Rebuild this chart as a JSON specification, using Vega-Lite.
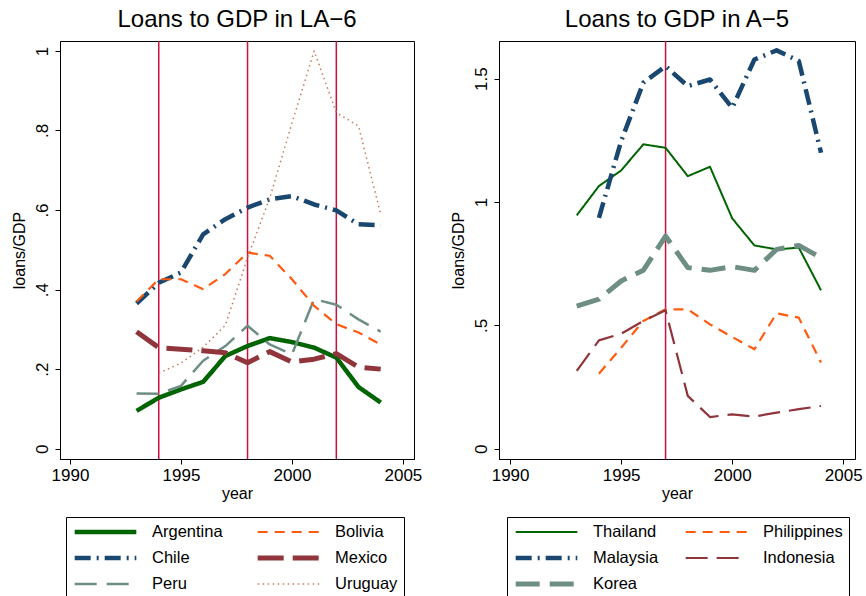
{
  "$schema": "https://vega.github.io/schema/vega-lite/v6.json",
  "background": "white",
  "padding": {"left": 10, "top": 7, "right": 5, "bottom": 5},
  "spacing": 26,
  "config": {
    "font": "Liberation Sans",
    "view": {"stroke": "black", "strokeWidth": 1},
    "axis": {"domainColor": "black", "tickColor": "black", "labelColor": "black", "titleColor": "black", "labelFontSize": 17, "titleFontSize": 16, "titleFontWeight": "normal", "grid": false, "tickSize": 5, "labelFont": "Liberation Sans", "titleFont": "Liberation Sans"},
    "title": {"fontSize": 24, "fontWeight": "normal", "font": "Liberation Sans", "color": "black", "anchor": "middle", "frame": "group", "offset": 8},
    "legend": {"labelFont": "Liberation Sans", "labelFontSize": 16.5, "labelColor": "black", "symbolType": "stroke", "symbolSize": 3800, "clipHeight": 18, "labelOffset": 13, "rowPadding": 8, "padding": 6, "strokeColor": "black", "columns": 2, "orient": "none"}
  },
  "resolve": {"scale": {"color": "independent", "strokeDash": "independent", "strokeWidth": "independent"}, "legend": {"color": "independent", "strokeDash": "independent", "strokeWidth": "independent"}},
  "hconcat": [
    {
      "width": 354,
      "height": 418,
      "title": "Loans to GDP in LA\u22126",
      "layer": [
        {
          "data": {"values": [{"year": 1994}, {"year": 1998}, {"year": 2002}]},
          "mark": {"type": "rule", "color": "#cc1040", "strokeWidth": 1.5},
          "encoding": {"x": {"field": "year", "type": "quantitative"}}
        },
        {
          "data": {"values": [
            {"c": "Argentina", "year": 1993, "v": 0.095},
            {"c": "Argentina", "year": 1994, "v": 0.128},
            {"c": "Argentina", "year": 1995, "v": 0.149},
            {"c": "Argentina", "year": 1996, "v": 0.168},
            {"c": "Argentina", "year": 1997, "v": 0.233},
            {"c": "Argentina", "year": 1998, "v": 0.258},
            {"c": "Argentina", "year": 1999, "v": 0.278},
            {"c": "Argentina", "year": 2000, "v": 0.268},
            {"c": "Argentina", "year": 2001, "v": 0.254},
            {"c": "Argentina", "year": 2002, "v": 0.229},
            {"c": "Argentina", "year": 2003, "v": 0.155},
            {"c": "Argentina", "year": 2004, "v": 0.116},
            {"c": "Chile", "year": 1993, "v": 0.365},
            {"c": "Chile", "year": 1994, "v": 0.417},
            {"c": "Chile", "year": 1995, "v": 0.443},
            {"c": "Chile", "year": 1996, "v": 0.539},
            {"c": "Chile", "year": 1997, "v": 0.577},
            {"c": "Chile", "year": 1998, "v": 0.606},
            {"c": "Chile", "year": 1999, "v": 0.627},
            {"c": "Chile", "year": 2000, "v": 0.635},
            {"c": "Chile", "year": 2001, "v": 0.614},
            {"c": "Chile", "year": 2002, "v": 0.599},
            {"c": "Chile", "year": 2003, "v": 0.564},
            {"c": "Chile", "year": 2004, "v": 0.562},
            {"c": "Peru", "year": 1993, "v": 0.139},
            {"c": "Peru", "year": 1994, "v": 0.138},
            {"c": "Peru", "year": 1995, "v": 0.158},
            {"c": "Peru", "year": 1996, "v": 0.221},
            {"c": "Peru", "year": 1997, "v": 0.258},
            {"c": "Peru", "year": 1998, "v": 0.309},
            {"c": "Peru", "year": 1999, "v": 0.262},
            {"c": "Peru", "year": 2000, "v": 0.237},
            {"c": "Peru", "year": 2001, "v": 0.376},
            {"c": "Peru", "year": 2002, "v": 0.362},
            {"c": "Peru", "year": 2003, "v": 0.325},
            {"c": "Peru", "year": 2004, "v": 0.294},
            {"c": "Bolivia", "year": 1993, "v": 0.37},
            {"c": "Bolivia", "year": 1994, "v": 0.426},
            {"c": "Bolivia", "year": 1995, "v": 0.426},
            {"c": "Bolivia", "year": 1996, "v": 0.401},
            {"c": "Bolivia", "year": 1997, "v": 0.439},
            {"c": "Bolivia", "year": 1998, "v": 0.493},
            {"c": "Bolivia", "year": 1999, "v": 0.485},
            {"c": "Bolivia", "year": 2000, "v": 0.426},
            {"c": "Bolivia", "year": 2001, "v": 0.359},
            {"c": "Bolivia", "year": 2002, "v": 0.313},
            {"c": "Bolivia", "year": 2003, "v": 0.292},
            {"c": "Bolivia", "year": 2004, "v": 0.262},
            {"c": "Mexico", "year": 1993, "v": 0.294},
            {"c": "Mexico", "year": 1994, "v": 0.254},
            {"c": "Mexico", "year": 1995, "v": 0.25},
            {"c": "Mexico", "year": 1996, "v": 0.246},
            {"c": "Mexico", "year": 1997, "v": 0.241},
            {"c": "Mexico", "year": 1998, "v": 0.216},
            {"c": "Mexico", "year": 1999, "v": 0.244},
            {"c": "Mexico", "year": 2000, "v": 0.218},
            {"c": "Mexico", "year": 2001, "v": 0.225},
            {"c": "Mexico", "year": 2002, "v": 0.239},
            {"c": "Mexico", "year": 2003, "v": 0.205},
            {"c": "Mexico", "year": 2004, "v": 0.2},
            {"c": "Uruguay", "year": 1994, "v": 0.19},
            {"c": "Uruguay", "year": 1995, "v": 0.215},
            {"c": "Uruguay", "year": 1996, "v": 0.255},
            {"c": "Uruguay", "year": 1997, "v": 0.31},
            {"c": "Uruguay", "year": 1998, "v": 0.48},
            {"c": "Uruguay", "year": 1999, "v": 0.63},
            {"c": "Uruguay", "year": 2000, "v": 0.818},
            {"c": "Uruguay", "year": 2001, "v": 1.0},
            {"c": "Uruguay", "year": 2002, "v": 0.845},
            {"c": "Uruguay", "year": 2003, "v": 0.811},
            {"c": "Uruguay", "year": 2004, "v": 0.589}
          ]},
          "mark": {"type": "line", "strokeCap": "butt", "strokeJoin": "round"},
          "encoding": {
            "x": {"field": "year", "type": "quantitative", "title": "year", "scale": {"domain": [1989.55, 2005.5], "nice": false, "zero": false}, "axis": {"values": [1990, 1995, 2000, 2005], "format": "d", "labelPadding": 3, "titlePadding": 2}},
            "y": {"field": "v", "type": "quantitative", "title": "loans/GDP", "scale": {"domain": [-0.026, 1.025], "nice": false, "zero": false}, "axis": {"values": [0, 0.2, 0.4, 0.6, 0.8, 1], "labelAngle": -90, "labelExpr": "datum.value == 0 ? '0' : replace(format(datum.value, '~g'), '0.', '.')", "labelPadding": 4, "titlePadding": 6}},
            "color": {"field": "c", "type": "nominal", "scale": {"domain": ["Argentina", "Chile", "Peru", "Bolivia", "Mexico", "Uruguay"], "range": ["#006400", "#1a476f", "#6e8e84", "#ff5a10", "#90353b", "#c87a5a"]}, "legend": {"title": null, "legendX": 6, "legendY": 476, "columnPadding": 32}},
            "strokeDash": {"field": "c", "type": "nominal", "scale": {"domain": ["Argentina", "Chile", "Peru", "Bolivia", "Mexico", "Uruguay"], "range": [[1, 0], [16, 6, 2, 6], [22, 10], [10, 7], [26, 9], [1.5, 3.5]]}, "legend": {"title": null, "legendX": 6, "legendY": 476, "columnPadding": 32}},
            "strokeWidth": {"field": "c", "type": "nominal", "scale": {"type": "ordinal", "domain": ["Argentina", "Chile", "Peru", "Bolivia", "Mexico", "Uruguay"], "range": [4.5, 4.5, 2.5, 2.2, 5, 1.5]}, "legend": {"title": null, "legendX": 6, "legendY": 476, "columnPadding": 32}}
          }
        }
      ]
    },
    {
      "width": 356,
      "height": 418,
      "title": "Loans to GDP in A\u22125",
      "layer": [
        {
          "data": {"values": [{"year": 1997}]},
          "mark": {"type": "rule", "color": "#cc1040", "strokeWidth": 1.5},
          "encoding": {"x": {"field": "year", "type": "quantitative"}}
        },
        {
          "data": {"values": [
            {"c": "Thailand", "year": 1993, "v": 0.946},
            {"c": "Thailand", "year": 1994, "v": 1.065},
            {"c": "Thailand", "year": 1995, "v": 1.128},
            {"c": "Thailand", "year": 1996, "v": 1.234},
            {"c": "Thailand", "year": 1997, "v": 1.22},
            {"c": "Thailand", "year": 1998, "v": 1.105},
            {"c": "Thailand", "year": 1999, "v": 1.143},
            {"c": "Thailand", "year": 2000, "v": 0.934},
            {"c": "Thailand", "year": 2001, "v": 0.824},
            {"c": "Thailand", "year": 2002, "v": 0.808},
            {"c": "Thailand", "year": 2003, "v": 0.815},
            {"c": "Thailand", "year": 2004, "v": 0.642},
            {"c": "Malaysia", "year": 1994, "v": 0.936},
            {"c": "Malaysia", "year": 1995, "v": 1.247},
            {"c": "Malaysia", "year": 1996, "v": 1.484},
            {"c": "Malaysia", "year": 1997, "v": 1.551},
            {"c": "Malaysia", "year": 1998, "v": 1.47},
            {"c": "Malaysia", "year": 1999, "v": 1.497},
            {"c": "Malaysia", "year": 2000, "v": 1.382},
            {"c": "Malaysia", "year": 2001, "v": 1.578},
            {"c": "Malaysia", "year": 2002, "v": 1.615},
            {"c": "Malaysia", "year": 2003, "v": 1.572},
            {"c": "Malaysia", "year": 2004, "v": 1.2},
            {"c": "Korea", "year": 1993, "v": 0.578},
            {"c": "Korea", "year": 1994, "v": 0.606},
            {"c": "Korea", "year": 1995, "v": 0.68},
            {"c": "Korea", "year": 1996, "v": 0.723},
            {"c": "Korea", "year": 1997, "v": 0.862},
            {"c": "Korea", "year": 1998, "v": 0.734},
            {"c": "Korea", "year": 1999, "v": 0.723},
            {"c": "Korea", "year": 2000, "v": 0.738},
            {"c": "Korea", "year": 2001, "v": 0.723},
            {"c": "Korea", "year": 2002, "v": 0.808},
            {"c": "Korea", "year": 2003, "v": 0.824},
            {"c": "Korea", "year": 2004, "v": 0.774},
            {"c": "Philippines", "year": 1994, "v": 0.304},
            {"c": "Philippines", "year": 1995, "v": 0.409},
            {"c": "Philippines", "year": 1996, "v": 0.518},
            {"c": "Philippines", "year": 1997, "v": 0.565},
            {"c": "Philippines", "year": 1998, "v": 0.565},
            {"c": "Philippines", "year": 1999, "v": 0.504},
            {"c": "Philippines", "year": 2000, "v": 0.453},
            {"c": "Philippines", "year": 2001, "v": 0.403},
            {"c": "Philippines", "year": 2002, "v": 0.549},
            {"c": "Philippines", "year": 2003, "v": 0.531},
            {"c": "Philippines", "year": 2004, "v": 0.349},
            {"c": "Indonesia", "year": 1993, "v": 0.315},
            {"c": "Indonesia", "year": 1994, "v": 0.439},
            {"c": "Indonesia", "year": 1995, "v": 0.466},
            {"c": "Indonesia", "year": 1996, "v": 0.518},
            {"c": "Indonesia", "year": 1997, "v": 0.561},
            {"c": "Indonesia", "year": 1998, "v": 0.214},
            {"c": "Indonesia", "year": 1999, "v": 0.128},
            {"c": "Indonesia", "year": 2000, "v": 0.139},
            {"c": "Indonesia", "year": 2001, "v": 0.13},
            {"c": "Indonesia", "year": 2002, "v": 0.146},
            {"c": "Indonesia", "year": 2003, "v": 0.16},
            {"c": "Indonesia", "year": 2004, "v": 0.173}
          ]},
          "mark": {"type": "line", "strokeCap": "butt", "strokeJoin": "round"},
          "encoding": {
            "x": {"field": "year", "type": "quantitative", "title": "year", "scale": {"domain": [1989.5, 2005.53], "nice": false, "zero": false}, "axis": {"values": [1990, 1995, 2000, 2005], "format": "d", "labelPadding": 3, "titlePadding": 2}},
            "y": {"field": "v", "type": "quantitative", "title": "loans/GDP", "scale": {"domain": [-0.042, 1.653], "nice": false, "zero": false}, "axis": {"values": [0, 0.5, 1, 1.5], "labelAngle": -90, "labelExpr": "datum.value == 0 ? '0' : replace(format(datum.value, '~g'), '0.', '.')", "labelPadding": 4, "titlePadding": 6}},
            "color": {"field": "c", "type": "nominal", "scale": {"domain": ["Thailand", "Malaysia", "Korea", "Philippines", "Indonesia"], "range": ["#006400", "#1a476f", "#6e8e84", "#ff5a10", "#90353b"]}, "legend": {"title": null, "legendX": 8, "legendY": 476, "columnPadding": 24}},
            "strokeDash": {"field": "c", "type": "nominal", "scale": {"domain": ["Thailand", "Malaysia", "Korea", "Philippines", "Indonesia"], "range": [[1, 0], [16, 6, 2, 6], [24, 10], [10, 7], [22, 9]]}, "legend": {"title": null, "legendX": 8, "legendY": 476, "columnPadding": 24}},
            "strokeWidth": {"field": "c", "type": "nominal", "scale": {"type": "ordinal", "domain": ["Thailand", "Malaysia", "Korea", "Philippines", "Indonesia"], "range": [2, 4.5, 5, 2.2, 2.2]}, "legend": {"title": null, "legendX": 8, "legendY": 476, "columnPadding": 24}}
          }
        }
      ]
    }
  ]
}
